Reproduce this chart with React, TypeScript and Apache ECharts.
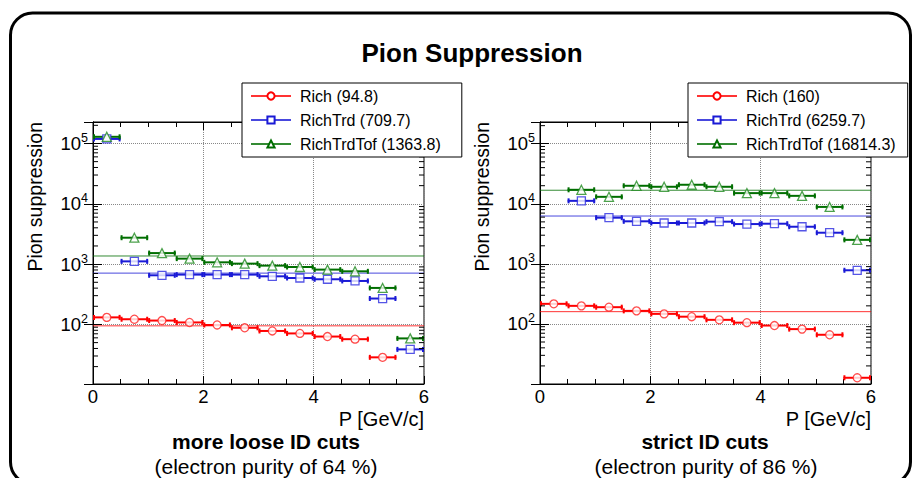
import React, { useEffect, useRef } from "react";
import * as echarts from "echarts";

const FONT = '"Liberation Sans", Arial, Helvetica, sans-serif';

// ---- data ----
const binCenters = [0.25, 0.75, 1.25, 1.75, 2.25, 2.75, 3.25, 3.75, 4.25, 4.75, 5.25, 5.75];
const binHalfWidth = 0.25;
const xMin = 0;
const xMax = 6;
const xTickStep = 2;

const methodNames = ["Rich", "RichTrd", "RichTrdTof"];

// left panel: more loose ID cuts
const looseRich = [131, 122, 116, 108, 98, 88, 78, 71, 63, 57, 28.5, null];
const looseRichTrd = [119000, 1111, 653, 670, 670, 670, 628, 589, 561, 526, 269, 38.6];
const looseRichTrdTof = [129000, 2741, 1524, 1233, 1071, 1019, 944, 896, 811, 760, 403, 58.7];
const looseMeans = [94.8, 709.7, 1363.8];

// right panel: strict ID cuts
const strictRich = [216, 200, 190, 165, 147, 132, 117, 105, 94, 82, 66, 12.7];
const strictRichTrd = [null, 11200, 5870, 5110, 4790, 4790, 5040, 4600, 4660, 4150, 3300, 782];
const strictRichTrdTof = [null, 17100, 13060, 19950, 19200, 20750, 19200, 15060, 15060, 13560, 8870, 2510];
const strictMeans = [160, 6259.7, 16814.3];

const leftYRange = [10.3, 227000];
const rightYRange = [10, 230000];

const minorMantissas = [2, 3, 4, 5, 6, 7, 8, 9];
const decades = [10, 100, 1000, 10000, 100000];

const panelTitles = ["more loose ID cuts", "strict ID cuts"];
const panelSubtitles = ["(electron purity of 64 %)", "(electron purity of 86 %)"];
const mainTitle = "Pion Suppression";
const yTitle = "Pion suppression";
const xTitle = "P [GeV/c]";

// ---- styles ----
const barColors = ["#ff0000", "#1a1ad6", "#006e00"];
const markerColors = ["#ff2020", "#2a2ae0", "#1f8a1f"];
const symbols = ["circle", "rect", "triangle"];
const legendSymbols = ["emptyCircle", "emptyRect", "emptyTriangle"];
const symbolSizes = [8, 8, 9];

const GRID_TOP = 122;
const GRID_H = 262;
const GRID_W = 331;
const GRID_LEFTS = [93, 540];

function panelSeries(panel: number, values: (number | null)[][], means: number[], yRange: number[]) {
  const xi = panel * 2;
  const yi = panel * 2;
  const out: any[] = [];
  methodNames.forEach((m, i) => {
    out.push({
      type: "line",
      name: `${m} (${means[i]})`,
      xAxisIndex: xi,
      yAxisIndex: yi,
      data: [
        [xMin, means[i]],
        [xMax, means[i]],
      ],
      symbol: legendSymbols[i],
      showSymbol: false,
      silent: true,
      lineStyle: { color: barColors[i], width: 1, opacity: 0.8 },
      itemStyle: { color: barColors[i] },
      z: 2,
    });
  });
  methodNames.forEach((m, i) => {
    const pts = binCenters
      .map((c, k) => [c, values[i][k]])
      .filter((p) => p[1] !== null && p[1] !== undefined);
    const color = barColors[i];
    out.push({
      type: "custom",
      name: `${m} (${means[i]})`,
      xAxisIndex: xi,
      yAxisIndex: yi,
      data: pts,
      encode: { x: 0, y: 1 },
      silent: true,
      z: 3,
      renderItem: (_p: any, api: any) => {
        const x = api.value(0);
        const y = api.value(1);
        const a = api.coord([x - binHalfWidth, y]);
        const b = api.coord([x + binHalfWidth, y]);
        const cap = 2.5;
        const style = { stroke: color, lineWidth: 2 };
        return {
          type: "group",
          children: [
            { type: "line", shape: { x1: a[0], y1: a[1], x2: b[0], y2: b[1] }, style },
            { type: "line", shape: { x1: a[0] + 1, y1: a[1] - cap, x2: a[0] + 1, y2: a[1] + cap }, style },
            { type: "line", shape: { x1: b[0] - 1, y1: b[1] - cap, x2: b[0] - 1, y2: b[1] + cap }, style },
          ],
        };
      },
    });
    out.push({
      type: "scatter",
      name: `${m} (${means[i]})`,
      xAxisIndex: xi,
      yAxisIndex: yi,
      data: pts,
      symbol: symbols[i],
      symbolSize: symbolSizes[i],
      silent: true,
      itemStyle: { color: "#ffffff", borderColor: markerColors[i], borderWidth: 1.3 },
      z: 4,
    });
  });
  // minor log ticks (axis decoration) on both frame sides
  const minorVals: number[][] = [];
  decades.forEach((d) =>
    minorMantissas.forEach((mm) => {
      const v = mm * d;
      if (v > yRange[0] && v < yRange[1]) minorVals.push([xMin, v]);
    })
  );
  out.push({
    type: "custom",
    name: "minorTicks" + panel,
    xAxisIndex: xi,
    yAxisIndex: yi,
    data: minorVals,
    encode: { x: 0, y: 1 },
    silent: true,
    z: 5,
    renderItem: (_p: any, api: any) => {
      const v = api.value(1);
      const l = api.coord([xMin, v]);
      const r = api.coord([xMax, v]);
      const style = { stroke: "#000", lineWidth: 1 };
      return {
        type: "group",
        children: [
          { type: "line", shape: { x1: l[0], y1: l[1], x2: l[0] + 5, y2: l[1] }, style },
          { type: "line", shape: { x1: r[0] - 5, y1: r[1], x2: r[0], y2: r[1] }, style },
        ],
      };
    },
  });
  return out;
}

function xAxes(grid: number) {
  const base = {
    gridIndex: grid,
    type: "value",
    min: xMin,
    max: xMax,
    interval: xTickStep,
    axisLine: { show: true, lineStyle: { color: "#000", width: 1 } },
    axisTick: { show: true, inside: true, length: 8, lineStyle: { color: "#000" } },
    minorTick: { show: true, splitNumber: 4, length: 5, lineStyle: { color: "#000" } },
  };
  return [
    {
      ...base,
      position: "bottom",
      splitLine: { show: true, lineStyle: { color: "#888", type: "dotted", width: 1 } },
      axisLabel: { show: true, fontSize: 18.5, color: "#000", fontFamily: FONT, margin: 3 },
    },
    {
      ...base,
      position: "top",
      splitLine: { show: false },
      axisLabel: { show: false },
    },
  ];
}

function yAxes(grid: number, range: number[]) {
  const base = {
    gridIndex: grid,
    type: "log",
    logBase: 10,
    min: range[0],
    max: range[1],
    axisLine: { show: true, lineStyle: { color: "#000", width: 1 } },
    axisTick: { show: true, inside: true, length: 9, lineStyle: { color: "#000" } },
  };
  return [
    {
      ...base,
      position: "left",
      splitLine: { show: true, lineStyle: { color: "#888", type: "dotted", width: 1 } },
      axisLabel: {
        show: true,
        margin: 5,
        formatter: (v: number) => {
          const e = Math.log10(v);
          const r = Math.round(e);
          if (Math.abs(e - r) > 1e-6 || r < 2) return "";
          return `{b|10}{s|${r}}`;
        },
        rich: {
          b: { fontSize: 18.5, lineHeight: 24, color: "#000", fontFamily: FONT },
          s: { fontSize: 12.5, lineHeight: 12, verticalAlign: "top", color: "#000", fontFamily: FONT },
        },
      },
    },
    {
      ...base,
      position: "right",
      splitLine: { show: false },
      axisLabel: { show: false },
    },
  ];
}

function legend(panel: number, means: number[], left: number, rightPad: number) {
  return {
    show: true,
    orient: "vertical",
    left,
    top: 83,
    data: methodNames.map((m, i) => `${m} (${means[i]})`),
    selectedMode: false,
    backgroundColor: "#ffffff",
    borderColor: "#000",
    borderWidth: 1,
    borderRadius: 0,
    padding: [4, rightPad, 4, 8],
    itemGap: 6,
    itemWidth: 40,
    itemHeight: 9,
    lineStyle: { width: 2 },
    textStyle: { fontSize: 16, lineHeight: 18, color: "#000", fontFamily: FONT, padding: [0, 0, 0, 4] },
    z: 10,
  };
}

function text(x: number, y: number, t: string, size: number, opts: any = {}) {
  const align = opts.align || "center";
  return {
    type: "text",
    x,
    y,
    rotation: opts.rotation || 0,
    style: {
      text: t,
      fontSize: size,
      fontWeight: opts.bold ? "bold" : "normal",
      fontFamily: FONT,
      fill: "#000",
      align,
      textAlign: align,
      verticalAlign: "middle",
      textVerticalAlign: "middle",
    },
    z: 20,
  };
}

export default function App() {
  const ref = useRef<HTMLDivElement>(null);
  useEffect(() => {
    if (!ref.current) return;
    const chart = echarts.init(ref.current, null, { renderer: "svg" });
    const option: any = {
      animation: false,
      backgroundColor: "#ffffff",
      textStyle: { fontFamily: FONT },
      grid: GRID_LEFTS.map((l) => ({
        left: l,
        top: GRID_TOP,
        width: GRID_W,
        height: GRID_H,
        show: true,
        borderColor: "#000",
        borderWidth: 1,
        backgroundColor: "transparent",
        containLabel: false,
      })),
      xAxis: [...xAxes(0), ...xAxes(1)],
      yAxis: [...yAxes(0, leftYRange), ...yAxes(1, rightYRange)],
      legend: [legend(0, looseMeans, 242, 21), legend(1, strictMeans, 688, 12)],
      series: [
        ...panelSeries(0, [looseRich, looseRichTrd, looseRichTrdTof], looseMeans, leftYRange),
        ...panelSeries(1, [strictRich, strictRichTrd, strictRichTrdTof], strictMeans, rightYRange),
      ],
      graphic: [
        {
          type: "rect",
          shape: { x: 10.5, y: 13, width: 900, height: 471, r: 22 },
          style: { fill: "none", stroke: "#000", lineWidth: 3 },
          z: 30,
          silent: true,
        },
        text(472, 53, mainTitle, 26, { bold: true }),
        text(35, GRID_TOP, yTitle, 19.5, { align: "right", rotation: Math.PI / 2 }),
        text(35 + GRID_LEFTS[1] - GRID_LEFTS[0], GRID_TOP, yTitle, 19.5, { align: "right", rotation: Math.PI / 2 }),
        text(GRID_LEFTS[0] + GRID_W, 419, xTitle, 20, { align: "right" }),
        text(GRID_LEFTS[1] + GRID_W, 419, xTitle, 20, { align: "right" }),
        text(266, 441, panelTitles[0], 21, { bold: true }),
        text(705, 441, panelTitles[1], 21, { bold: true }),
        text(266, 466, panelSubtitles[0], 21),
        text(706, 466, panelSubtitles[1], 21),
      ],
    };
    chart.setOption(option);
    return () => chart.dispose();
  }, []);
  return (
    <div
      ref={ref}
      style={{ position: "absolute", left: 0, top: 0, width: 912, height: 478, background: "#fff" }}
    />
  );
}
